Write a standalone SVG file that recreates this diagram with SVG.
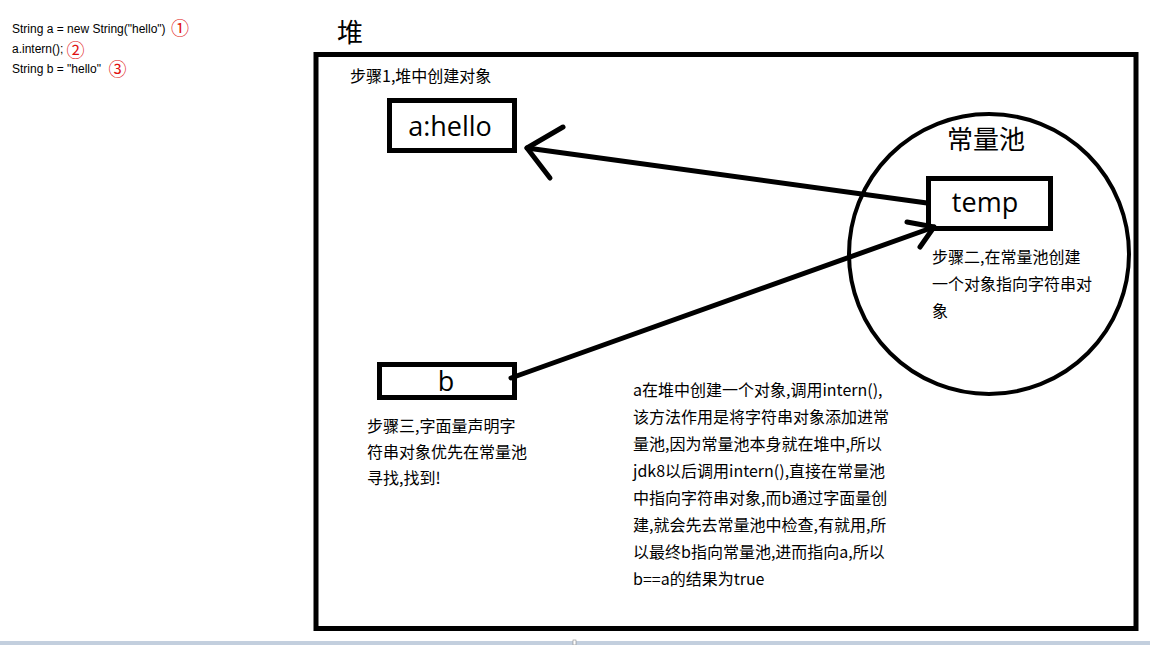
<svg xmlns="http://www.w3.org/2000/svg" width="1150" height="645" viewBox="0 0 1150 645">
<style>
.code{font-family:"Liberation Sans",Arial,sans-serif;font-size:12px;fill:#000}
.num{font-family:"Noto Sans CJK SC","DejaVu Sans",sans-serif;font-size:18px;fill:#e01010;text-anchor:middle}
.cn{font-family:"Noto Sans CJK SC",sans-serif;font-size:16px;fill:#000}
.big{font-family:"Noto Sans CJK SC",sans-serif;font-size:26px;fill:#000}
.lbl{font-family:"Open Sans","Noto Sans CJK SC",sans-serif;font-size:27px;fill:#000;text-anchor:middle}
.box{fill:#fff;stroke:#000;stroke-width:5}
.conn{fill:none;stroke:#000;stroke-width:5;stroke-linecap:round;stroke-linejoin:round}
</style>
<rect width="1150" height="645" fill="#fff"/>
<g id="code">
<text class="code" x="12" y="33">String a = new String("hello")</text>
<text class="num" x="180" y="34.5">①</text>
<text class="code" x="12" y="53">a.intern();</text>
<text class="num" x="75.5" y="57">②</text>
<text class="code" x="12" y="73">String b = "hello"</text>
<text class="num" x="117.5" y="76">③</text>
</g>
<g id="heap">
<text class="big" x="337" y="42">堆</text>
<rect x="316" y="54.5" width="820" height="574" fill="none" stroke="#000" stroke-width="5"/>
<text class="cn" x="350" y="82">步骤1,堆中创建对象</text>
</g>
<g id="pool">
<circle cx="989" cy="254" r="140" fill="none" stroke="#000" stroke-width="4"/>
<text class="big" x="947" y="149">常量池</text>
<text class="cn" x="932" y="263">步骤二,在常量池创建</text>
<text class="cn" x="932" y="290">一个对象指向字符串对</text>
<text class="cn" x="932" y="317">象</text>
</g>
<g id="node-a">
<rect class="box" x="389.5" y="100.5" width="125" height="50"/>
<text class="lbl" x="450" y="136">a:hello</text>
</g>
<g id="node-temp">
<rect class="box" x="928.5" y="178.5" width="122" height="50"/>
<text class="lbl" x="985" y="212">temp</text>
</g>
<g id="node-b">
<rect class="box" x="379.5" y="364.5" width="135" height="33"/>
<text class="lbl" x="446" y="391">b</text>
<text class="cn" x="367" y="432">步骤三,字面量声明字</text>
<text class="cn" x="367" y="458">符串对象优先在常量池</text>
<text class="cn" x="367" y="484">寻找,找到!</text>
</g>
<g id="note">
<text class="cn" x="633" y="396">a在堆中创建一个对象,调用intern(),</text>
<text class="cn" x="633" y="423">该方法作用是将字符串对象添加进常</text>
<text class="cn" x="633" y="450">量池,因为常量池本身就在堆中,所以</text>
<text class="cn" x="633" y="477">jdk8以后调用intern(),直接在常量池</text>
<text class="cn" x="633" y="504">中指向字符串对象,而b通过字面量创</text>
<text class="cn" x="633" y="531">建,就会先去常量池中检查,有就用,所</text>
<text class="cn" x="633" y="558">以最终b指向常量池,进而指向a,所以</text>
<text class="cn" x="633" y="585">b==a的结果为true</text>
</g>
<g id="connectors">
<line class="conn" x1="927" y1="203" x2="527" y2="148"/>
<polyline class="conn" points="563,127 527,148 550,178"/>
<line class="conn" x1="511" y1="378" x2="934" y2="227"/>
<polyline class="conn" points="907,222 934,227 920,247"/>
</g>
<g id="statusbar">
<rect x="0" y="641" width="1150" height="4" fill="#c3cfde"/>
<rect x="573" y="640" width="3" height="5" fill="#fff" stroke="#888" stroke-width="0.6"/>
</g>
</svg>
